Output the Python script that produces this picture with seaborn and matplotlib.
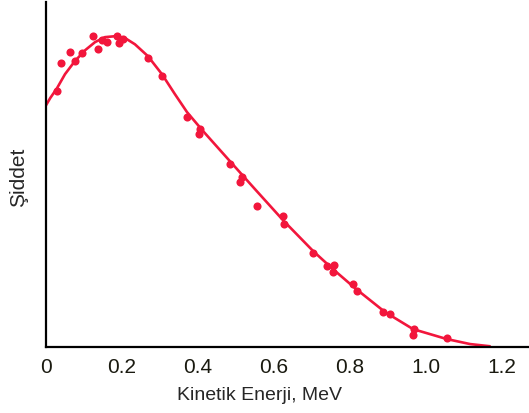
import numpy as np
import pandas as pd
import seaborn as sns
import matplotlib.pyplot as plt

# Beta spektrumu: fit eğrisi (okunan değerler, keyfi birim)
curve_energy = [0.000, 0.011, 0.029, 0.050, 0.076, 0.103, 0.129, 0.155, 0.182,
                0.208, 0.234, 0.268, 0.305, 0.339, 0.371, 0.411, 0.484, 0.550,
                0.624, 0.703, 0.755, 0.813, 0.892, 0.966, 1.055, 1.116, 1.168]
curve_intensity = [77.8, 80.1, 83.3, 87.8, 92.0, 95.5, 98.1, 99.7, 100.0,
                   99.4, 97.4, 93.6, 87.8, 81.4, 75.6, 69.8, 59.8, 50.8,
                   40.8, 30.9, 25.1, 19.0, 11.3, 5.8, 2.6, 1.0, 0.3]

# Ölçüm noktaları
point_energy = [0.029, 0.039, 0.063, 0.076, 0.095, 0.124, 0.137, 0.147, 0.161,
                0.187, 0.192, 0.203, 0.268, 0.305, 0.371, 0.405, 0.403, 0.484,
                0.516, 0.511, 0.555, 0.624, 0.626, 0.703, 0.739, 0.758, 0.755,
                0.808, 0.818, 0.887, 0.905, 0.968, 0.966, 1.055]
point_intensity = [82.3, 91.3, 94.9, 92.0, 94.5, 100.0, 95.8, 98.7, 98.1,
                   100.0, 97.7, 99.0, 92.9, 87.1, 74.0, 70.1, 68.5, 58.8,
                   54.7, 53.1, 45.3, 42.1, 39.5, 30.2, 26.0, 26.4, 24.1,
                   20.3, 18.0, 11.3, 10.6, 5.8, 3.9, 2.9]

xticks = [0, 0.2, 0.4, 0.6, 0.8, 1.0, 1.2]
xtick_labels = ["0", "0.2", "0.4", "0.6", "0.8", "1.0", "1.2"]

red = "#f2163c"

sns.set_style("white")
plt.rcParams["font.family"] = ["Liberation Sans", "DejaVu Sans"]

curve = pd.DataFrame({"E": curve_energy, "I": curve_intensity})
points = pd.DataFrame({"E": point_energy, "I": point_intensity})

fig = plt.figure(figsize=(5.29, 4.14), dpi=100)
ax = fig.add_axes([0.087, 0.159, 0.913, 0.833])

sns.lineplot(data=curve, x="E", y="I", color=red, linewidth=1.9, ax=ax,
             sort=False, solid_capstyle="round")
sns.scatterplot(data=points, x="E", y="I", color=red, s=34, linewidth=0,
                ax=ax, zorder=3)

ax.set_xlim(0, 1.271)
ax.set_ylim(0, 110.9)
ax.set_xticks(xticks)
ax.set_xticklabels(xtick_labels, fontsize=15, color="#1a1a10")
ax.set_yticks([])
ax.tick_params(axis="x", length=0, pad=7)

for side in ["top", "right"]:
    ax.spines[side].set_visible(False)
for side in ["left", "bottom"]:
    ax.spines[side].set_color("black")
    ax.spines[side].set_linewidth(1.6)

ax.set_xlabel("Kinetik Enerji, MeV", fontsize=14)
ax.xaxis.set_label_coords(0.443, -0.112)
ax.set_ylabel("Şiddet", fontsize=15)
ax.yaxis.set_label_coords(-0.037, 0.496)

fig.savefig("out.png", dpi=100)
